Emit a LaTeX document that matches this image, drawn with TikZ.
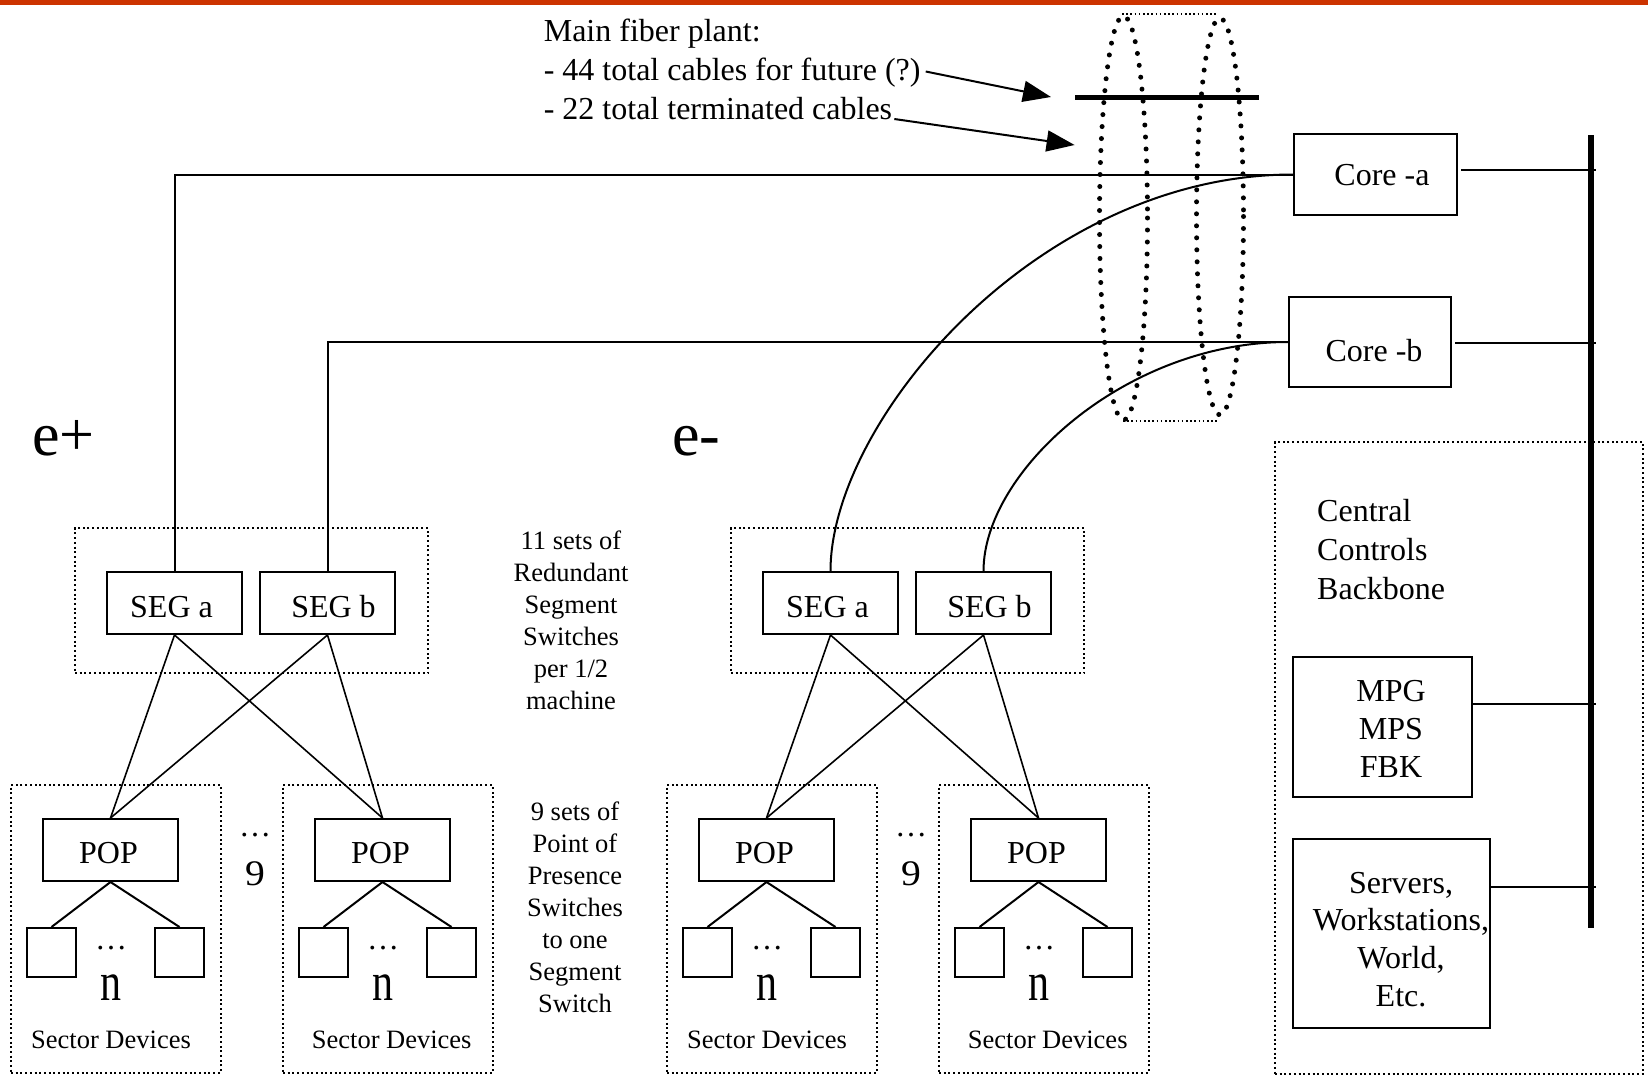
\documentclass[tikz,border=0pt]{standalone}
\usepackage{fontspec}
\setmainfont{Liberation Serif}
\usepackage{graphicx}
\usetikzlibrary{arrows.meta}
\definecolor{slidebar}{RGB}{204,51,0}
\newcommand{\fsz}[2]{\fontsize{#1}{#2}\selectfont}
\begin{document}
\begin{tikzpicture}[x=1pt,y=-1pt,
  box/.style={draw,line width=2pt,inner sep=0pt,rectangle},
  dotbox/.style={draw,line width=2pt,dash pattern=on 2pt off 2.7pt,inner sep=0pt,rectangle},
  txt/.style={inner sep=0pt,anchor=base,font=\fsz{32}{38}},
  small/.style={txt,font=\fsz{26.5}{32}},
  big/.style={txt,font=\fsz{62}{62}},
  link/.style={line width=2pt},
  xlink/.style={line width=1.6pt},
  bus/.style={line width=6pt},
  fiberdots/.style={line width=5pt,dash pattern=on 0pt off 12pt,line cap=round},
  fiberedge/.style={line width=1.6pt,dash pattern=on 1.6pt off 2.6pt},
  pointer/.style={line width=2pt,-{Triangle[length=28pt,width=21pt]}}
]
\fill[white] (0,0) rectangle (1648,1079);
\useasboundingbox (0,0) rectangle (1648,1079);
\fill[slidebar] (0,0) rectangle (1648,5);

% ---- the two half machines (e+ and e-) ----
\foreach \s/\h in {0/p,656/m}{
\begin{scope}[shift={(\s,0)}]
  \node[dotbox,minimum width=353pt,minimum height=145pt] (segset-\h) at (251.5,600.5) {};
  \node[box,minimum width=135pt,minimum height=62pt] (segA-\h) at (174.5,603) {};
  \node[box,minimum width=135pt,minimum height=62pt] (segB-\h) at (327.5,603) {};
  \node[txt] (segAlbl-\h) at (171.5,617) {SEG a};
  \node[txt] (segBlbl-\h) at (333.5,617) {SEG b};
  \node[txt,font=\fsz{32}{32}] (moredots-\h) at (255,836) {…};
  \node[txt,font=\fsz{36}{36}] (morenum-\h) at (255,885) {\scalebox{1.1}[1]{9}};
  \foreach \q/\k/\c in {0/l/111,272/r/119.7}{
    \begin{scope}[shift={(\q,0)}]
      \node[dotbox,minimum width=209.5pt,minimum height=288pt] (sector-\h\k) at (115.75,929) {};
      \node[box,minimum width=135pt,minimum height=62pt] (pop-\h\k) at (110.5,850) {};
      \node[txt] (poplbl-\h\k) at (108.5,863) {POP};
      \node[box,minimum width=49pt,minimum height=49pt] (devA-\h\k) at (51.5,952.5) {};
      \node[box,minimum width=49pt,minimum height=49pt] (devB-\h\k) at (179.5,952.5) {};
      \node[txt,font=\fsz{32}{32}] (devdots-\h\k) at (111,949) {…};
      \node[txt,font=\fsz{42}{42}] (devn-\h\k) at (111,1000) {\scalebox{1}[1.3]{n}};
      \node[txt,font=\fsz{26.5}{30}] (devcap-\h\k) at (\c,1048) {Sector Devices};
      \draw[link] (pop-\h\k.south) -- (devA-\h\k.north);
      \draw[link] (pop-\h\k.south) -- (devB-\h\k.north);
    \end{scope}
  }
  \foreach \k in {l,r}{
    \draw[xlink] (segA-\h.south) -- (pop-\h\k.north);
    \draw[xlink] (segB-\h.south) -- (pop-\h\k.north);
  }
\end{scope}
}

\node[big,anchor=base west] (eplus) at (32,455) {e+};
\node[big,anchor=base west] (eminus) at (672,455) {e-};

\node[small] (segnote) at (571,549) {\begin{tabular}[t]{@{}c@{}}11 sets of\\Redundant\\Segment\\Switches\\per 1/2\\machine\end{tabular}};
\node[small] (popnote) at (575,820) {\begin{tabular}[t]{@{}c@{}}9 sets of\\Point of\\Presence\\Switches\\to one\\Segment\\Switch\end{tabular}};

% ---- core switches ----
\node[box,minimum width=163pt,minimum height=81pt] (corea) at (1375.5,174.5) {};
\node[txt] (corealbl) at (1382,185) {Core -a};
\node[box,minimum width=162pt,minimum height=90pt] (coreb) at (1370,342) {};
\node[txt] (coreblbl) at (1374,361) {Core -b};

% ---- main fiber plant ----
\draw[fiberdots] (1123.5,218) ellipse [x radius=24, y radius=202];
\draw[fiberdots] (1220,216.5) ellipse [x radius=23.5, y radius=198.5];
\coordinate (fibtopL) at (1122,14);
\coordinate (fibtopR) at (1218,14);
\coordinate (fibbotL) at (1123,421);
\coordinate (fibbotR) at (1217,421);
\draw[fiberedge] (fibtopL) -- (fibtopR);
\draw[fiberedge] (fibbotL) -- (fibbotR);
\coordinate (fibL) at (1075,97);
\coordinate (fibR) at (1259,97);
\draw[line width=5pt] (fibL) -- (fibR);

% ---- links from the segment switches to the cores ----
\draw[link] (segA-p.north) |- (corea.west);
\draw[link] (segB-p.north) |- (coreb.west);
\draw[link] (segA-m.north) .. controls +(0,-150) and +(-255,0) .. (corea.west);
\draw[link] (segB-m.north) .. controls +(0,-100) and +(-162,0) .. (coreb.west);

% ---- fiber plant notes ----
\node[txt,anchor=base west] (plant1) at (543.6,41.7) {Main fiber plant:};
\node[txt,anchor=base west] (plant2) at (543.6,80.5) {- 44 total cables for future (?)};
\node[txt,anchor=base west] (plant3) at (543.6,119) {- 22 total terminated cables};
\coordinate (tipA) at (1051,97);
\coordinate (tipB) at (1074.6,145);
\draw[pointer] ([xshift=5pt,yshift=9pt]plant2.base east) -- (tipA);
\draw[pointer] ([xshift=2pt]plant3.base east) -- (tipB);

% ---- central controls backbone ----
\node[dotbox,minimum width=368pt,minimum height=632pt] (central) at (1459,758) {};
\node[txt,anchor=base west,font=\fsz{32}{39}] (centrallbl) at (1317,521) {\begin{tabular}[t]{@{}l@{}}Central\\Controls\\Backbone\end{tabular}};
\node[box,minimum width=179pt,minimum height=140pt] (mpg) at (1382.5,727) {};
\node[txt,font=\fsz{32}{38}] (mpglbl) at (1391,701) {\begin{tabular}[t]{@{}c@{}}MPG\\MPS\\FBK\end{tabular}};
\node[box,minimum width=197pt,minimum height=189pt] (srv) at (1391.5,933.5) {};
\node[txt,font=\fsz{32}{37.7}] (srvlbl) at (1401,893) {\begin{tabular}[t]{@{}c@{}}Servers,\\Workstations,\\World,\\Etc.\end{tabular}};

\coordinate (bbtop) at (1591,135);
\coordinate (bbbot) at (1591,928);
\draw[bus] (bbtop) -- (bbbot);
\coordinate (tapa) at (1596,170);
\coordinate (tapb) at (1596,343);
\coordinate (tapm) at (1596,704);
\coordinate (taps) at (1596,887);
\draw[link,shorten <=3pt] (corea.east |- tapa) -- (tapa);
\draw[link,shorten <=3pt] (coreb.east |- tapb) -- (tapb);
\draw[link] (mpg.east |- tapm) -- (tapm);
\draw[link] (srv.east |- taps) -- (taps);
\end{tikzpicture}
\end{document}
